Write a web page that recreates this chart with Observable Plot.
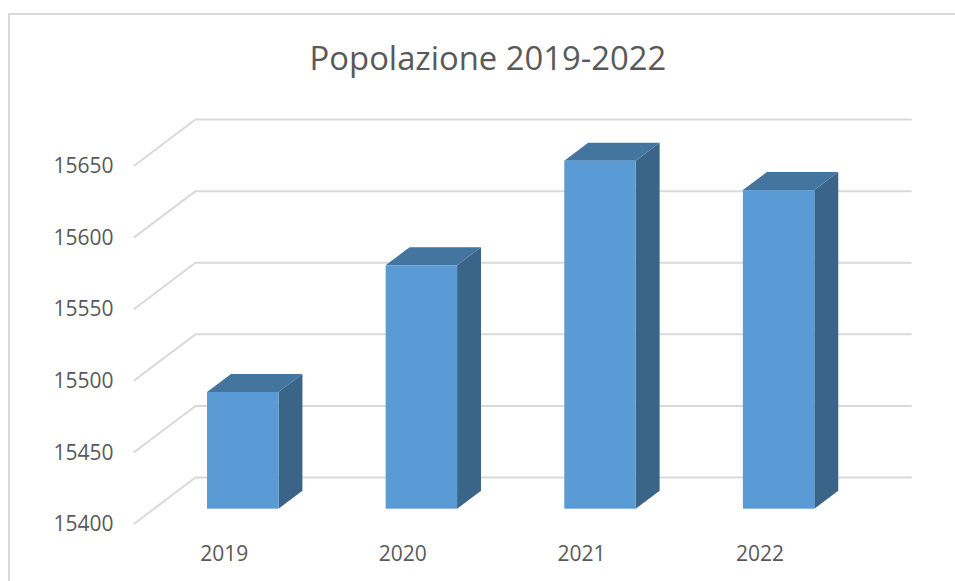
<!DOCTYPE html>
<html lang="it">
<head>
<meta charset="utf-8">
<script src="https://cdn.jsdelivr.net/npm/d3@7"></script>
<script src="https://cdn.jsdelivr.net/npm/@observablehq/plot@0.6"></script>
<style>
  html, body { margin: 0; padding: 0; background: #fff; }
  body { width: 955px; height: 581px; overflow: hidden; position: relative; }
  #frame { position: absolute; left: 8px; top: 13px; right: 0; bottom: 0;
           border-top: 2px solid #d9d9d9; border-left: 2px solid #d9d9d9; }
  #title { position: relative; height: 100px; width: 955px; text-align: center; box-sizing: border-box;
           padding: 36px 0 0 21px; font: 32.8px/44px "Open Sans", sans-serif; color: #595959; }
  #chart { position: relative; }
  #chart svg { display: block; }
</style>
</head>
<body>
<div id="frame"></div>
<div id="title">Popolazione 2019-2022</div>
<div id="chart"></div>
<script>
const years = ["2019", "2020", "2021", "2022"];
const population = [15481.5, 15570, 15643, 15622.5];
const yTicks = [15400, 15450, 15500, 15550, 15600, 15650];
const baseValue = 15400;

// Oblique projection, in scale units
const wallDx = 0.3415, wallLift = 32.1;      // floor depth front -> back wall
const planeDx = 0.1065, planeLift = 10;      // front wall -> front face of the bars
const barDx = 0.134, barLift = 12.6;         // depth of a bar
const halfBar = 0.2;
const frontX = -0.609, gridEndX = 3.738;

const gridLines = yTicks.flatMap(v => [
  {v, x: frontX, y: v},
  {v, x: frontX + wallDx, y: v + wallLift},
  {v, x: gridEndX, y: v + wallLift}
]);

const bars = population.map((value, i) => ({
  year: years[i],
  x1: i - halfBar,
  x2: i + halfBar,
  top: value + planeLift,
  base: baseValue + planeLift
}));

const sideFaces = bars.flatMap(b => [
  {year: b.year, x: b.x2, y1: b.base, y2: b.top},
  {year: b.year, x: b.x2 + barDx, y1: b.base + barLift, y2: b.top + barLift}
]);

const topFaces = bars.flatMap(b => [
  {year: b.year, x: b.x1, y1: b.top, y2: b.top},
  {year: b.year, x: b.x1 + barDx, y1: b.top, y2: b.top + barLift},
  {year: b.year, x: b.x2, y1: b.top, y2: b.top + barLift},
  {year: b.year, x: b.x2 + barDx, y1: b.top + barLift, y2: b.top + barLift}
]);

const yearLabels = years.map((year, i) => ({year, x: i - planeDx, y: baseValue}));

const chart = Plot.plot({
  width: 955,
  height: 481,
  marginLeft: 121,
  marginTop: 0,
  marginRight: 0,
  marginBottom: 0,
  style: {background: "transparent", fontFamily: '"Open Sans", sans-serif', color: "#595959"},
  x: {type: "linear", domain: [0, 3], range: [242.75, 778.6], axis: null},
  y: {type: "linear", domain: [15400, 15650], range: [423, 65], axis: null},
  marks: [
    Plot.line(gridLines, {x: "x", y: "y", z: "v", stroke: "#d9d9d9", strokeWidth: 2}),
    Plot.axisY(yTicks, {
      anchor: "left", tickSize: 0, tickPadding: 8, tickFormat: d => String(d),
      fontSize: 21, fill: "#595959", dy: 1, label: null
    }),
    Plot.area(sideFaces, {x1: "x", y1: "y1", y2: "y2", z: "year", fill: "#3a6488"}),
    Plot.area(topFaces, {x1: "x", y1: "y1", y2: "y2", z: "year", fill: "#44759f"}),
    Plot.rect(bars, {x1: "x1", x2: "x2", y1: "base", y2: "top", fill: "#5b9bd5"}),
    Plot.text(yearLabels, {x: "x", y: "y", text: "year", dy: 31, fontSize: 21, fill: "#595959"})
  ]
});
document.getElementById("chart").append(chart);
</script>
</body>
</html>
